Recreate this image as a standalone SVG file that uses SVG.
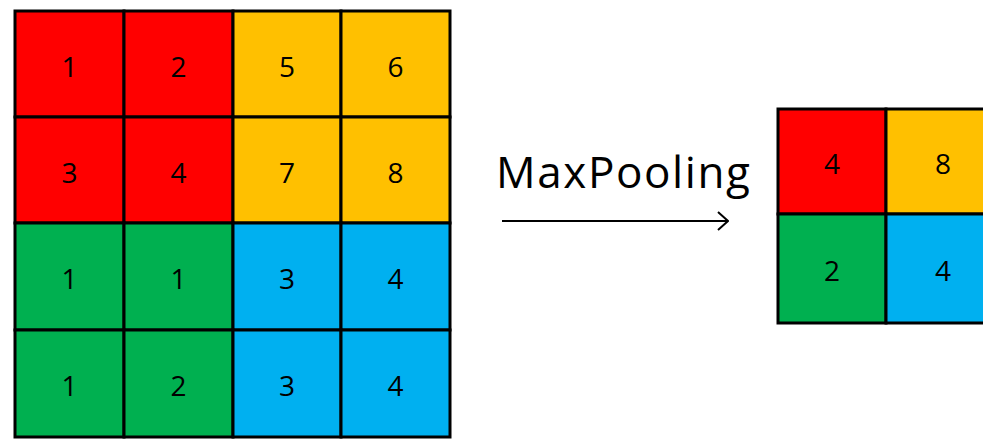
<svg xmlns="http://www.w3.org/2000/svg" width="983" height="439" viewBox="0 0 983 439">
<defs>
<style>
.c{stroke:#000;stroke-width:3}
.r{fill:#FF0000}.y{fill:#FFC000}.g{fill:#00B050}.b{fill:#00B0F0}
.t{font-family:"Open Sans","Liberation Sans",sans-serif;font-size:28px;fill:#000;text-anchor:middle;dominant-baseline:central}
.lbl{font-family:"Open Sans","Liberation Sans",sans-serif;font-size:44px;fill:#000}
</style>
<marker id="ah" viewBox="0 0 12 20" refX="11" refY="10" markerWidth="12" markerHeight="20" markerUnits="userSpaceOnUse" orient="auto">
<path d="M1,1 L11,10 L1,19" fill="none" stroke="#000" stroke-width="2"/>
</marker>
</defs>
<rect width="983" height="439" fill="#fff"/>
<g id="input">
<g id="r0">
<rect class="c r" x="15" y="11" width="109" height="106"/><text class="t" x="69.5" y="66">1</text>
<rect class="c r" x="124" y="11" width="109" height="106"/><text class="t" x="178.5" y="66">2</text>
<rect class="c y" x="233" y="11" width="108" height="106"/><text class="t" x="287" y="66">5</text>
<rect class="c y" x="341" y="11" width="109" height="106"/><text class="t" x="395.5" y="66">6</text>
</g>
<g id="r1">
<rect class="c r" x="15" y="117" width="109" height="106"/><text class="t" x="69.5" y="172">3</text>
<rect class="c r" x="124" y="117" width="109" height="106"/><text class="t" x="178.5" y="172">4</text>
<rect class="c y" x="233" y="117" width="108" height="106"/><text class="t" x="287" y="172">7</text>
<rect class="c y" x="341" y="117" width="109" height="106"/><text class="t" x="395.5" y="172">8</text>
</g>
<g id="r2">
<rect class="c g" x="15" y="223" width="109" height="107"/><text class="t" x="69.5" y="278">1</text>
<rect class="c g" x="124" y="223" width="109" height="107"/><text class="t" x="178.5" y="278">1</text>
<rect class="c b" x="233" y="223" width="108" height="107"/><text class="t" x="287" y="278">3</text>
<rect class="c b" x="341" y="223" width="109" height="107"/><text class="t" x="395.5" y="278">4</text>
</g>
<g id="r3">
<rect class="c g" x="15" y="330" width="109" height="107"/><text class="t" x="69.5" y="385">1</text>
<rect class="c g" x="124" y="330" width="109" height="107"/><text class="t" x="178.5" y="385">2</text>
<rect class="c b" x="233" y="330" width="108" height="107"/><text class="t" x="287" y="385">3</text>
<rect class="c b" x="341" y="330" width="109" height="107"/><text class="t" x="395.5" y="385">4</text>
</g>
</g>
<g id="output">
<rect class="c r" x="778" y="109" width="108" height="105"/><text class="t" x="832" y="163">4</text>
<rect class="c y" x="886" y="109" width="109" height="105"/><text class="t" x="943" y="163">8</text>
<rect class="c g" x="778" y="214" width="108" height="109"/><text class="t" x="832" y="270">2</text>
<rect class="c b" x="886" y="214" width="109" height="109"/><text class="t" x="943" y="270">4</text>
</g>
<g id="connectors">
<line x1="502" y1="221" x2="728" y2="221" stroke="#000" stroke-width="2" marker-end="url(#ah)"/>
</g>
<text class="lbl" x="496" y="188" textLength="254" lengthAdjust="spacing">MaxPooling</text>
</svg>
